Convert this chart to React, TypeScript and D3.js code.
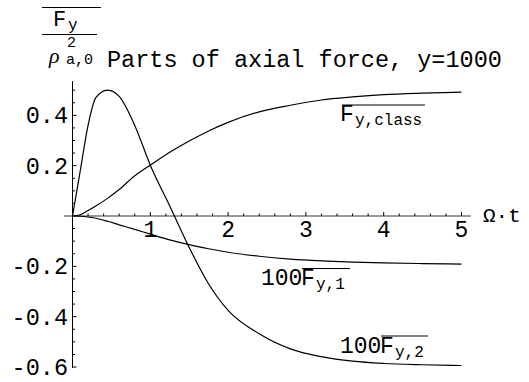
import React from 'react';
import { scaleLinear, line, curveMonotoneX } from 'd3';

// sample times (Omega*t) and the three read-off curves
const tValues = [0, 0.1, 0.2, 0.3, 0.45, 0.6, 0.8, 1.0, 1.25, 1.5, 1.75, 2.0, 2.4, 2.8, 3.2, 3.6, 4.0, 4.5, 5.0];
const fClass = [0, 0.005, 0.022, 0.04, 0.07, 0.105, 0.16, 0.202, 0.253, 0.298, 0.338, 0.372, 0.414, 0.44, 0.461, 0.473, 0.482, 0.488, 0.492];
const f1Times100 = [0, -0.001, -0.004, -0.009, -0.021, -0.035, -0.053, -0.072, -0.095, -0.114, -0.13, -0.144, -0.16, -0.171, -0.178, -0.183, -0.186, -0.189, -0.191];
const f2Times100 = [0, 0.18, 0.36, 0.47, 0.5, 0.475, 0.36, 0.202, 0.04, -0.125, -0.27, -0.375, -0.468, -0.528, -0.559, -0.577, -0.586, -0.591, -0.594];

const xMajorTicks = [1, 2, 3, 4, 5];
const yMajorTicks = [-0.6, -0.4, -0.2, 0.2, 0.4];

const W = 529;
const H = 382;
const mono = '"Liberation Mono", "Courier New", monospace';

const x = scaleLinear().domain([0, 5]).range([72.5, 461.5]);
const y = scaleLinear().domain([-0.6, 0]).range([367, 216]);

// minor ticks every 0.2 on x, every 0.05 on y
const xMinor = scaleLinear().domain([0, 5.12]).ticks(26).filter(v => v > 0.01);
const yMinor = scaleLinear().domain([-0.6, 0.536]).ticks(22).filter(v => Math.abs(v) > 0.001);

const path = (vals: number[]) =>
  line<number>()
    .x((_, i) => x(tValues[i]))
    .y(d => y(d))
    .curve(curveMonotoneX)(vals) || '';

export default function App() {
  const isMajor = (v: number, arr: number[]) => arr.some(m => Math.abs(m - v) < 1e-6);
  return (
    <svg width={W} height={H} style={{ position: 'absolute', left: 0, top: 0, background: '#fff' }}>
      {/* axes */}
      <line x1={x(-0.11)} x2={x(5.12)} y1={y(0)} y2={y(0)} stroke="#777" strokeWidth={1.6} />
      <line x1={x(0)} x2={x(0)} y1={y(0.536)} y2={y(-0.6) + 1} stroke="#000" strokeWidth={1} />

      {xMinor.map(v => (
        <line key={'xt' + v} x1={x(v)} x2={x(v)} y1={y(0)}
          y2={y(0) - (isMajor(v, xMajorTicks) ? 4 : 2.5)} stroke="#000" strokeWidth={1} />
      ))}
      {yMinor.map(v => (
        <line key={'yt' + v} x1={x(0)} x2={x(0) + (isMajor(v, yMajorTicks) ? 4 : 2.5)}
          y1={y(v)} y2={y(v)} stroke="#000" strokeWidth={1} />
      ))}

      {xMajorTicks.map(v => (
        <text key={'xl' + v} x={x(v)} y={237} textAnchor="middle" fontFamily={mono} fontSize={23}>{v}</text>
      ))}
      {yMajorTicks.map(v => (
        <text key={'yl' + v} x={68} y={y(v) + 8} textAnchor="end" fontFamily={mono} fontSize={23.5}>{v.toFixed(1)}</text>
      ))}

      <text x={483} y={222} fontFamily={mono} fontSize={21}>Ω·t</text>

      {/* curves */}
      <path d={path(fClass)} fill="none" stroke="#000" strokeWidth={1.2} />
      <path d={path(f1Times100)} fill="none" stroke="#000" strokeWidth={1.2} />
      <path d={path(f2Times100)} fill="none" stroke="#000" strokeWidth={1.2} />

      {/* y label: overbar F_y over rho^2_{a,0} */}
      <line x1={42} x2={101} y1={7.5} y2={7.5} stroke="#000" strokeWidth={1} />
      <text x={53} y={26} fontFamily={mono} fontSize={22}>F</text>
      <text x={68} y={30} fontFamily={mono} fontSize={16}>y</text>
      <line x1={42} x2={97} y1={34.5} y2={34.5} stroke="#000" strokeWidth={1} />
      <text x={49} y={63} fontFamily='"Liberation Serif", serif' fontStyle="italic" fontSize={22}>ρ</text>
      <text x={67} y={47} fontFamily={mono} fontSize={15}>2</text>
      <text x={66} y={64} fontFamily={mono} fontSize={15}>a,0</text>
      <text x={107} y={67} fontFamily={mono} fontSize={23.5}>Parts of axial force, y=1000</text>

      {/* curve labels */}
      <line x1={342} x2={425} y1={105} y2={105} stroke="#000" strokeWidth={1} />
      <text x={340} y={121} fontFamily={mono} fontSize={23}>F</text>
      <text x={355} y={125} fontFamily={mono} fontSize={16}>y,class</text>

      <text x={261} y={285} fontFamily={mono} fontSize={23}>100</text>
      <line x1={302} x2={350} y1={268.5} y2={268.5} stroke="#000" strokeWidth={1} />
      <text x={301} y={285} fontFamily={mono} fontSize={23}>F</text>
      <text x={316} y={289} fontFamily={mono} fontSize={16}>y,1</text>

      <text x={340} y={352.5} fontFamily={mono} fontSize={23}>100</text>
      <line x1={381} x2={428} y1={336} y2={336} stroke="#000" strokeWidth={1} />
      <text x={380} y={352.5} fontFamily={mono} fontSize={23}>F</text>
      <text x={395} y={356.5} fontFamily={mono} fontSize={16}>y,2</text>
    </svg>
  );
}
